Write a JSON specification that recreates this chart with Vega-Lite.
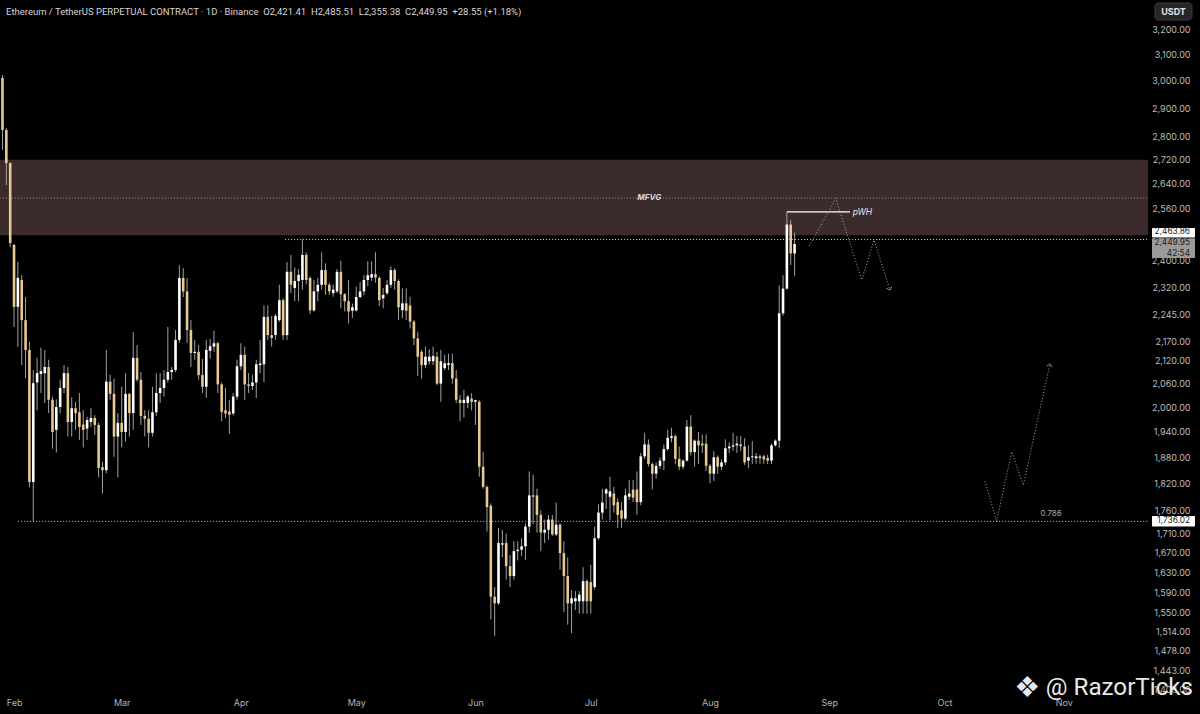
{
"$schema":"https://vega.github.io/schema/vega-lite/v6.json",
"width":1148,"height":692,"autosize":"none","padding":{"left":0,"top":0,"right":52,"bottom":22},
"background":"#000000",
"config":{"view":{"stroke":null},"font":"Inter","axis":{"grid":false,"domain":false,"ticks":false,"title":null}},
"datasets":{
"candles":[
{"t":"2025-01-29","o":3011,"h":3022,"l":2754,"c":2823},
{"t":"2025-01-30","o":2823,"h":2830,"l":2636,"c":2709},
{"t":"2025-01-31","o":2709,"h":2712,"l":2440,"c":2453},
{"t":"2025-02-01","o":2447,"h":2450,"l":2210,"c":2266},
{"t":"2025-02-02","o":2266,"h":2396,"l":2156,"c":2349},
{"t":"2025-02-03","o":2343,"h":2357,"l":2108,"c":2229},
{"t":"2025-02-04","o":2229,"h":2294,"l":2074,"c":2148},
{"t":"2025-02-05","o":2148,"h":2170,"l":1811,"c":1823},
{"t":"2025-02-06","o":1823,"h":2095,"l":1736,"c":2061},
{"t":"2025-02-07","o":2063,"h":2127,"l":1993,"c":2087},
{"t":"2025-02-08","o":2085,"h":2154,"l":2036,"c":2092},
{"t":"2025-02-09","o":2087,"h":2148,"l":2011,"c":2103},
{"t":"2025-02-10","o":2103,"h":2122,"l":1986,"c":2019},
{"t":"2025-02-11","o":2019,"h":2027,"l":1900,"c":1940},
{"t":"2025-02-12","o":1945,"h":2020,"l":1891,"c":2001},
{"t":"2025-02-13","o":2001,"h":2070,"l":1985,"c":2049},
{"t":"2025-02-14","o":2049,"h":2108,"l":2036,"c":2087},
{"t":"2025-02-15","o":2087,"h":2103,"l":1929,"c":1964},
{"t":"2025-02-16","o":1964,"h":2025,"l":1929,"c":1998},
{"t":"2025-02-17","o":1998,"h":2014,"l":1945,"c":1986},
{"t":"2025-02-18","o":1988,"h":2036,"l":1921,"c":1952},
{"t":"2025-02-19","o":1958,"h":1993,"l":1903,"c":1945},
{"t":"2025-02-20","o":1948,"h":1977,"l":1921,"c":1969},
{"t":"2025-02-21","o":1964,"h":1998,"l":1952,"c":1974},
{"t":"2025-02-22","o":1974,"h":1981,"l":1933,"c":1957},
{"t":"2025-02-23","o":1957,"h":1962,"l":1834,"c":1855},
{"t":"2025-02-24","o":1857,"h":1869,"l":1797,"c":1850},
{"t":"2025-02-25","o":1850,"h":2148,"l":1843,"c":2065},
{"t":"2025-02-26","o":2065,"h":2083,"l":2019,"c":2034},
{"t":"2025-02-27","o":2034,"h":2073,"l":1881,"c":1929},
{"t":"2025-02-28","o":1929,"h":1986,"l":1834,"c":1962},
{"t":"2025-03-01","o":1962,"h":2052,"l":1903,"c":1940},
{"t":"2025-03-02","o":1940,"h":2087,"l":1917,"c":2034},
{"t":"2025-03-03","o":2034,"h":2036,"l":1929,"c":1986},
{"t":"2025-03-04","o":1986,"h":2196,"l":1945,"c":2127},
{"t":"2025-03-05","o":2127,"h":2161,"l":2065,"c":2070},
{"t":"2025-03-06","o":2070,"h":2090,"l":1957,"c":1979},
{"t":"2025-03-07","o":1979,"h":1993,"l":1929,"c":1972},
{"t":"2025-03-08","o":1972,"h":1993,"l":1903,"c":1938},
{"t":"2025-03-09","o":1938,"h":2052,"l":1929,"c":1988},
{"t":"2025-03-10","o":1988,"h":2087,"l":1979,"c":2036},
{"t":"2025-03-11","o":2036,"h":2087,"l":2011,"c":2049},
{"t":"2025-03-12","o":2049,"h":2095,"l":2027,"c":2070},
{"t":"2025-03-13","o":2070,"h":2210,"l":2063,"c":2090},
{"t":"2025-03-14","o":2090,"h":2103,"l":2070,"c":2095},
{"t":"2025-03-15","o":2095,"h":2202,"l":2090,"c":2175},
{"t":"2025-03-16","o":2175,"h":2386,"l":2167,"c":2349},
{"t":"2025-03-17","o":2349,"h":2378,"l":2294,"c":2310},
{"t":"2025-03-18","o":2310,"h":2349,"l":2167,"c":2202},
{"t":"2025-03-19","o":2202,"h":2229,"l":2103,"c":2140},
{"t":"2025-03-20","o":2140,"h":2175,"l":2122,"c":2143},
{"t":"2025-03-21","o":2143,"h":2161,"l":2070,"c":2082},
{"t":"2025-03-22","o":2082,"h":2124,"l":2036,"c":2052},
{"t":"2025-03-23","o":2052,"h":2175,"l":2024,"c":2148},
{"t":"2025-03-24","o":2146,"h":2178,"l":2125,"c":2158},
{"t":"2025-03-25","o":2157,"h":2200,"l":2143,"c":2166},
{"t":"2025-03-26","o":2166,"h":2170,"l":2036,"c":2058},
{"t":"2025-03-27","o":2058,"h":2063,"l":1966,"c":1989},
{"t":"2025-03-28","o":1993,"h":2049,"l":1974,"c":1985},
{"t":"2025-03-29","o":1990,"h":2019,"l":1935,"c":1982},
{"t":"2025-03-30","o":1985,"h":2036,"l":1980,"c":2027},
{"t":"2025-03-31","o":2027,"h":2122,"l":2019,"c":2105},
{"t":"2025-04-01","o":2105,"h":2166,"l":2095,"c":2135},
{"t":"2025-04-02","o":2135,"h":2157,"l":2019,"c":2058},
{"t":"2025-04-03","o":2058,"h":2087,"l":2036,"c":2054},
{"t":"2025-04-04","o":2054,"h":2082,"l":2044,"c":2063},
{"t":"2025-04-05","o":2063,"h":2122,"l":2024,"c":2110},
{"t":"2025-04-06","o":2108,"h":2175,"l":2087,"c":2112},
{"t":"2025-04-07","o":2110,"h":2270,"l":2063,"c":2238},
{"t":"2025-04-08","o":2238,"h":2270,"l":2175,"c":2188},
{"t":"2025-04-09","o":2188,"h":2241,"l":2157,"c":2180},
{"t":"2025-04-10","o":2188,"h":2246,"l":2175,"c":2241},
{"t":"2025-04-11","o":2229,"h":2329,"l":2224,"c":2285},
{"t":"2025-04-12","o":2285,"h":2290,"l":2175,"c":2188},
{"t":"2025-04-13","o":2188,"h":2396,"l":2175,"c":2367},
{"t":"2025-04-14","o":2367,"h":2417,"l":2305,"c":2329},
{"t":"2025-04-15","o":2320,"h":2380,"l":2282,"c":2340},
{"t":"2025-04-16","o":2340,"h":2375,"l":2282,"c":2358},
{"t":"2025-04-17","o":2343,"h":2464,"l":2315,"c":2417},
{"t":"2025-04-18","o":2417,"h":2425,"l":2330,"c":2343},
{"t":"2025-04-19","o":2349,"h":2354,"l":2246,"c":2256},
{"t":"2025-04-20","o":2256,"h":2343,"l":2253,"c":2310},
{"t":"2025-04-21","o":2310,"h":2349,"l":2282,"c":2329},
{"t":"2025-04-22","o":2329,"h":2425,"l":2315,"c":2372},
{"t":"2025-04-23","o":2372,"h":2392,"l":2300,"c":2329},
{"t":"2025-04-24","o":2329,"h":2335,"l":2300,"c":2310},
{"t":"2025-04-25","o":2305,"h":2330,"l":2295,"c":2315},
{"t":"2025-04-26","o":2310,"h":2375,"l":2305,"c":2367},
{"t":"2025-04-27","o":2367,"h":2400,"l":2262,"c":2302},
{"t":"2025-04-28","o":2302,"h":2305,"l":2253,"c":2282},
{"t":"2025-04-29","o":2282,"h":2343,"l":2220,"c":2253},
{"t":"2025-04-30","o":2255,"h":2275,"l":2235,"c":2265},
{"t":"2025-05-01","o":2256,"h":2324,"l":2253,"c":2294},
{"t":"2025-05-02","o":2294,"h":2337,"l":2290,"c":2310},
{"t":"2025-05-03","o":2310,"h":2357,"l":2299,"c":2343},
{"t":"2025-05-04","o":2343,"h":2398,"l":2325,"c":2357},
{"t":"2025-05-05","o":2350,"h":2398,"l":2340,"c":2360},
{"t":"2025-05-06","o":2360,"h":2425,"l":2335,"c":2350},
{"t":"2025-05-07","o":2349,"h":2354,"l":2268,"c":2285},
{"t":"2025-05-08","o":2290,"h":2320,"l":2262,"c":2300},
{"t":"2025-05-09","o":2305,"h":2343,"l":2300,"c":2329},
{"t":"2025-05-10","o":2329,"h":2383,"l":2320,"c":2372},
{"t":"2025-05-11","o":2372,"h":2378,"l":2315,"c":2340},
{"t":"2025-05-12","o":2340,"h":2345,"l":2229,"c":2265},
{"t":"2025-05-13","o":2257,"h":2319,"l":2234,"c":2276},
{"t":"2025-05-14","o":2276,"h":2319,"l":2229,"c":2255},
{"t":"2025-05-15","o":2270,"h":2295,"l":2206,"c":2225},
{"t":"2025-05-16","o":2225,"h":2229,"l":2161,"c":2179},
{"t":"2025-05-17","o":2179,"h":2197,"l":2080,"c":2130},
{"t":"2025-05-18","o":2143,"h":2148,"l":2073,"c":2108},
{"t":"2025-05-19","o":2108,"h":2157,"l":2100,"c":2130},
{"t":"2025-05-20","o":2118,"h":2150,"l":2110,"c":2130},
{"t":"2025-05-21","o":2118,"h":2157,"l":2108,"c":2132},
{"t":"2025-05-22","o":2130,"h":2143,"l":2056,"c":2060},
{"t":"2025-05-23","o":2060,"h":2148,"l":2014,"c":2118},
{"t":"2025-05-24","o":2100,"h":2135,"l":2095,"c":2113},
{"t":"2025-05-25","o":2108,"h":2138,"l":2095,"c":2113},
{"t":"2025-05-26","o":2113,"h":2138,"l":2060,"c":2073},
{"t":"2025-05-27","o":2073,"h":2095,"l":2011,"c":2019},
{"t":"2025-05-28","o":2019,"h":2031,"l":1966,"c":2011},
{"t":"2025-05-29","o":2011,"h":2044,"l":1975,"c":2019},
{"t":"2025-05-30","o":2011,"h":2031,"l":1998,"c":2027},
{"t":"2025-05-31","o":2022,"h":2036,"l":1993,"c":2014},
{"t":"2025-06-01","o":2014,"h":2019,"l":1957,"c":2018},
{"t":"2025-06-02","o":2014,"h":2018,"l":1835,"c":1858},
{"t":"2025-06-03","o":1858,"h":1893,"l":1808,"c":1812},
{"t":"2025-06-04","o":1812,"h":1815,"l":1714,"c":1767},
{"t":"2025-06-05","o":1770,"h":1775,"l":1537,"c":1581},
{"t":"2025-06-06","o":1581,"h":1600,"l":1506,"c":1568},
{"t":"2025-06-07","o":1568,"h":1722,"l":1565,"c":1690},
{"t":"2025-06-08","o":1690,"h":1718,"l":1660,"c":1686},
{"t":"2025-06-09","o":1690,"h":1710,"l":1615,"c":1642},
{"t":"2025-06-10","o":1642,"h":1665,"l":1600,"c":1622},
{"t":"2025-06-11","o":1622,"h":1694,"l":1615,"c":1673},
{"t":"2025-06-12","o":1673,"h":1694,"l":1654,"c":1676},
{"t":"2025-06-13","o":1676,"h":1700,"l":1663,"c":1683},
{"t":"2025-06-14","o":1683,"h":1732,"l":1655,"c":1725},
{"t":"2025-06-15","o":1725,"h":1847,"l":1712,"c":1793},
{"t":"2025-06-16","o":1793,"h":1840,"l":1730,"c":1790},
{"t":"2025-06-17","o":1793,"h":1808,"l":1712,"c":1750},
{"t":"2025-06-18","o":1750,"h":1760,"l":1673,"c":1712},
{"t":"2025-06-19","o":1712,"h":1740,"l":1690,"c":1718},
{"t":"2025-06-20","o":1718,"h":1750,"l":1697,"c":1740},
{"t":"2025-06-21","o":1740,"h":1750,"l":1705,"c":1708},
{"t":"2025-06-22","o":1708,"h":1777,"l":1705,"c":1729},
{"t":"2025-06-23","o":1729,"h":1732,"l":1635,"c":1669},
{"t":"2025-06-24","o":1669,"h":1694,"l":1551,"c":1622},
{"t":"2025-06-25","o":1622,"h":1660,"l":1527,"c":1568},
{"t":"2025-06-26","o":1568,"h":1594,"l":1511,"c":1578},
{"t":"2025-06-27","o":1572,"h":1592,"l":1555,"c":1578},
{"t":"2025-06-28","o":1572,"h":1592,"l":1548,"c":1585},
{"t":"2025-06-29","o":1572,"h":1640,"l":1548,"c":1612},
{"t":"2025-06-30","o":1612,"h":1615,"l":1548,"c":1572},
{"t":"2025-07-01","o":1610,"h":1645,"l":1548,"c":1572},
{"t":"2025-07-02","o":1600,"h":1725,"l":1595,"c":1700},
{"t":"2025-07-03","o":1700,"h":1773,"l":1697,"c":1755},
{"t":"2025-07-04","o":1755,"h":1808,"l":1740,"c":1777},
{"t":"2025-07-05","o":1797,"h":1810,"l":1763,"c":1806},
{"t":"2025-07-06","o":1790,"h":1835,"l":1738,"c":1802},
{"t":"2025-07-07","o":1797,"h":1812,"l":1755,"c":1771},
{"t":"2025-07-08","o":1778,"h":1786,"l":1722,"c":1750},
{"t":"2025-07-09","o":1760,"h":1778,"l":1722,"c":1742},
{"t":"2025-07-10","o":1742,"h":1808,"l":1738,"c":1793},
{"t":"2025-07-11","o":1790,"h":1828,"l":1783,"c":1797},
{"t":"2025-07-12","o":1806,"h":1828,"l":1778,"c":1788},
{"t":"2025-07-13","o":1806,"h":1847,"l":1750,"c":1778},
{"t":"2025-07-14","o":1778,"h":1890,"l":1771,"c":1882},
{"t":"2025-07-15","o":1882,"h":1938,"l":1876,"c":1910},
{"t":"2025-07-16","o":1910,"h":1922,"l":1858,"c":1864},
{"t":"2025-07-17","o":1864,"h":1868,"l":1806,"c":1842},
{"t":"2025-07-18","o":1842,"h":1868,"l":1831,"c":1860},
{"t":"2025-07-19","o":1860,"h":1880,"l":1853,"c":1872},
{"t":"2025-07-20","o":1872,"h":1910,"l":1850,"c":1899},
{"t":"2025-07-21","o":1899,"h":1945,"l":1895,"c":1926},
{"t":"2025-07-22","o":1926,"h":1950,"l":1915,"c":1930},
{"t":"2025-07-23","o":1930,"h":1934,"l":1864,"c":1876},
{"t":"2025-07-24","o":1876,"h":1905,"l":1850,"c":1858},
{"t":"2025-07-25","o":1858,"h":1875,"l":1852,"c":1872},
{"t":"2025-07-26","o":1872,"h":1969,"l":1870,"c":1953},
{"t":"2025-07-27","o":1953,"h":1981,"l":1884,"c":1892},
{"t":"2025-07-28","o":1892,"h":1922,"l":1858,"c":1919},
{"t":"2025-07-29","o":1919,"h":1940,"l":1864,"c":1908},
{"t":"2025-07-30","o":1912,"h":1934,"l":1890,"c":1908},
{"t":"2025-07-31","o":1912,"h":1934,"l":1848,"c":1860},
{"t":"2025-08-01","o":1860,"h":1864,"l":1820,"c":1842},
{"t":"2025-08-02","o":1842,"h":1895,"l":1825,"c":1880},
{"t":"2025-08-03","o":1880,"h":1884,"l":1842,"c":1858},
{"t":"2025-08-04","o":1858,"h":1875,"l":1850,"c":1868},
{"t":"2025-08-05","o":1868,"h":1922,"l":1862,"c":1901},
{"t":"2025-08-06","o":1901,"h":1915,"l":1890,"c":1905},
{"t":"2025-08-07","o":1905,"h":1938,"l":1895,"c":1908},
{"t":"2025-08-08","o":1908,"h":1930,"l":1890,"c":1912},
{"t":"2025-08-09","o":1910,"h":1930,"l":1895,"c":1906},
{"t":"2025-08-10","o":1905,"h":1925,"l":1862,"c":1868},
{"t":"2025-08-11","o":1872,"h":1908,"l":1855,"c":1880},
{"t":"2025-08-12","o":1880,"h":1918,"l":1864,"c":1882},
{"t":"2025-08-13","o":1878,"h":1890,"l":1865,"c":1882},
{"t":"2025-08-14","o":1882,"h":1886,"l":1865,"c":1878},
{"t":"2025-08-15","o":1882,"h":1886,"l":1865,"c":1875},
{"t":"2025-08-16","o":1878,"h":1886,"l":1864,"c":1872},
{"t":"2025-08-17","o":1872,"h":1912,"l":1864,"c":1908},
{"t":"2025-08-18","o":1908,"h":1922,"l":1905,"c":1919},
{"t":"2025-08-19","o":1919,"h":2327,"l":1901,"c":2248},
{"t":"2025-08-20","o":2248,"h":2357,"l":2241,"c":2318},
{"t":"2025-08-21","o":2318,"h":2550,"l":2315,"c":2510},
{"t":"2025-08-22","o":2510,"h":2525,"l":2387,"c":2421.4},
{"t":"2025-08-23","o":2421.41,"h":2485.51,"l":2355.38,"c":2449.95}
]
},
"encoding":{
 "x":{"field":"t","type":"temporal","title":null,"scale":{"type":"utc","domain":[{"year":2025,"month":1,"date":28,"hours":8,"minutes":24,"utc":true},{"year":2025,"month":11,"date":22,"hours":22,"minutes":3,"utc":true}]},
  "axis":{"values":[{"year":2025,"month":2,"date":1,"utc":true},{"year":2025,"month":3,"date":1,"utc":true},{"year":2025,"month":4,"date":1,"utc":true},{"year":2025,"month":5,"date":1,"utc":true},{"year":2025,"month":6,"date":1,"utc":true},{"year":2025,"month":7,"date":1,"utc":true},{"year":2025,"month":8,"date":1,"utc":true},{"year":2025,"month":9,"date":1,"utc":true},{"year":2025,"month":10,"date":1,"utc":true},{"year":2025,"month":11,"date":1,"utc":true}],
   "labelExpr":"utcFormat(datum.value, '%b')","title":null,"grid":false,"domain":false,"ticks":false,"labelColor":"#b4b4b4","labelFont":"Inter","labelFontSize":9,"labelPadding":6,"labelOverlap":false}}
},
"layer":[
{"data":{"values":[{"t":"2025-01-01","t2":"2025-12-31","p":2720,"p2":2477}]},
 "mark":{"type":"rect","color":"#3b2b2c","clip":true},
 "encoding":{
  "x2":{"field":"t2"},
  "y":{"field":"p","type":"quantitative","title":null,"scale":{"type":"log","domain":[1404.5,3317.4],"nice":false},
   "axis":{"orient":"right","values":[1408,1443,1478,1514,1550,1590,1630,1670,1710,1760,1820,1880,1940,2000,2060,2120,2170,2245,2320,2400,2560,2640,2720,2800,2900,3000,3100,3200],
    "format":",.2f","title":null,"grid":false,"domain":false,"ticks":false,"labelColor":"#bcbcbc","labelFont":"Inter","labelFontSize":9,"labelPadding":42,"labelAlign":"right","labelOverlap":false,"labelBound":false}},
  "y2":{"field":"p2"}}},
{"data":{"values":[{"t":"2025-01-01","t2":"2025-12-31","p":2594}]},
 "mark":{"type":"rule","color":"#9c9090","strokeDash":[1,2],"strokeWidth":1,"clip":true},
 "encoding":{"x2":{"field":"t2"},"y":{"field":"p","type":"quantitative","title":null,"scale":{"type":"log","domain":[1404.5,3317.4],"nice":false}}}},
{"data":{"values":[{"t":"2025-04-12T12:00:00Z","t2":"2025-12-31","p":2463.86},{"t":"2025-02-02T02:00:00Z","t2":"2025-12-31","p":1736.02}]},
 "mark":{"type":"rule","color":"#cfcfcf","strokeDash":[1,2],"strokeWidth":1,"clip":true},
 "encoding":{"x2":{"field":"t2"},"y":{"field":"p","type":"quantitative","title":null,"scale":{"type":"log","domain":[1404.5,3317.4],"nice":false}}}},
{"data":{"name":"candles"},
 "mark":{"type":"rule","color":"#a0a0a0","strokeWidth":1},
 "encoding":{"y":{"field":"l","type":"quantitative","title":null,"scale":{"type":"log","domain":[1404.5,3317.4],"nice":false}},"y2":{"field":"h"}}},
{"data":{"name":"candles"},
 "mark":{"type":"rule","strokeWidth":2.6,"strokeCap":"butt"},
 "encoding":{"y":{"field":"o","type":"quantitative","title":null,"scale":{"type":"log","domain":[1404.5,3317.4],"nice":false}},"y2":{"field":"c"},
  "color":{"condition":{"test":"datum.c >= datum.o","value":"#ffffff"},"value":"#e8c990"}}},
{"data":{"values":[{"t":"2025-08-21","t2":"2025-09-06T10:00:00Z","p":2550}]},
 "mark":{"type":"rule","color":"#ffffff","strokeWidth":1.3},
 "encoding":{"x2":{"field":"t2"},"y":{"field":"p","type":"quantitative","title":null,"scale":{"type":"log","domain":[1404.5,3317.4],"nice":false}}}},
{"data":{"values":[{"path":"a","t":"2025-08-26T20:00:00Z","p":2444},{"path":"a","t":"2025-09-02T16:48:00Z","p":2593},{"path":"a","t":"2025-09-09T11:00:00Z","p":2343},{"path":"a","t":"2025-09-12T15:50:00Z","p":2462},{"path":"a","t":"2025-09-16T19:40:00Z","p":2314},
  {"path":"b","t":"2025-10-11T12:43:00Z","p":1825},{"path":"b","t":"2025-10-14T13:40:00Z","p":1736},{"path":"b","t":"2025-10-18T11:17:00Z","p":1893},{"path":"b","t":"2025-10-21T11:46:00Z","p":1816},{"path":"b","t":"2025-10-28T10:19:00Z","p":2111}]},
 "mark":{"type":"line","color":"#a8a8a8","strokeDash":[1,2],"strokeWidth":1},
 "encoding":{"y":{"field":"p","type":"quantitative","title":null,"scale":{"type":"log","domain":[1404.5,3317.4],"nice":false}},"detail":{"field":"path"}}},
{"data":{"values":[{"t":"2025-09-16T19:40:00Z","p":2314}]},
 "mark":{"type":"point","shape":"M-0.9,0.9L0,0L0.9,0.9","filled":false,"color":"#a8a8a8","strokeWidth":1,"size":40,"angle":162},
 "encoding":{"y":{"field":"p","type":"quantitative","title":null,"scale":{"type":"log","domain":[1404.5,3317.4],"nice":false}}}},
{"data":{"values":[{"t":"2025-10-28T10:19:00Z","p":2111}]},
 "mark":{"type":"point","shape":"M-0.9,0.9L0,0L0.9,0.9","filled":false,"color":"#a8a8a8","strokeWidth":1,"size":40,"angle":12},
 "encoding":{"y":{"field":"p","type":"quantitative","title":null,"scale":{"type":"log","domain":[1404.5,3317.4],"nice":false}}}},
{"data":{"values":[{"t":"2025-07-16T05:00:00Z","p":2594,"label":"MFVG"}]},
 "mark":{"type":"text","color":"#d8d8d8","font":"Inter","fontSize":8,"fontStyle":"italic","fontWeight":"bold","align":"center","baseline":"middle"},
 "encoding":{"y":{"field":"p","type":"quantitative","title":null,"scale":{"type":"log","domain":[1404.5,3317.4],"nice":false}},"text":{"field":"label"}}},
{"data":{"values":[{"t":"2025-09-07T02:24:00Z","p":2550,"label":"pWH"}]},
 "mark":{"type":"text","color":"#e6e6e6","font":"Inter","fontSize":8.5,"fontStyle":"italic","align":"left","baseline":"middle"},
 "encoding":{"y":{"field":"p","type":"quantitative","title":null,"scale":{"type":"log","domain":[1404.5,3317.4],"nice":false}},"text":{"field":"label"}}},
{"data":{"values":[{"t":"2025-10-28T17:00:00Z","p":1751,"label":"0.786"}]},
 "mark":{"type":"text","color":"#a8a8a8","font":"Inter","fontSize":8,"align":"center","baseline":"middle"},
 "encoding":{"y":{"field":"p","type":"quantitative","title":null,"scale":{"type":"log","domain":[1404.5,3317.4],"nice":false}},"text":{"field":"label"}}},
{"data":{"values":[{"t":"2025-01-29T21:50:00Z","p":3269,"label":"Ethereum / TetherUS PERPETUAL CONTRACT · 1D · Binance\u00a0\u00a0O2,421.41\u00a0\u00a0H2,485.51\u00a0\u00a0L2,355.38\u00a0\u00a0C2,449.95\u00a0\u00a0+28.55 (+1.18%)"}]},
 "mark":{"type":"text","color":"#d6d6d6","font":"Roboto","fontSize":9.5,"align":"left","baseline":"middle"},
 "encoding":{"y":{"field":"p","type":"quantitative","title":null,"scale":{"type":"log","domain":[1404.5,3317.4],"nice":false}},"text":{"field":"label"}}},
{"data":{"values":[{"t":"2025-11-24T17:45:00Z","t2":"2025-12-04T08:38:00Z","p":3305,"p2":3236}]},
 "mark":{"type":"rect","color":"#262626","stroke":"#3a3a3a","strokeWidth":1,"cornerRadius":3},
 "encoding":{"x2":{"field":"t2"},"y":{"field":"p","type":"quantitative","title":null,"scale":{"type":"log","domain":[1404.5,3317.4],"nice":false}},"y2":{"field":"p2"}}},
{"data":{"values":[{"t":"2025-11-29T13:12:00Z","p":3269,"label":"USDT"}]},
 "mark":{"type":"text","color":"#e0e0e0","font":"Inter","fontSize":9,"fontWeight":"bold","align":"center","baseline":"middle"},
 "encoding":{"y":{"field":"p","type":"quantitative","title":null,"scale":{"type":"log","domain":[1404.5,3317.4],"nice":false}},"text":{"field":"label"}}},
{"data":{"values":[{"t":"2025-11-23T23:00:00Z","t2":"2025-12-05T03:22:00Z","p":2499,"p2":2470,"kind":"w"},{"t":"2025-11-23T23:00:00Z","t2":"2025-12-05T03:22:00Z","p":1747.6,"p2":1724.8,"kind":"w"},{"t":"2025-11-23T23:00:00Z","t2":"2025-12-05T03:22:00Z","p":2468,"p2":2408,"kind":"g"}]},
 "mark":{"type":"rect","cornerRadius":1},
 "encoding":{"x2":{"field":"t2"},"y":{"field":"p","type":"quantitative","title":null,"scale":{"type":"log","domain":[1404.5,3317.4],"nice":false}},"y2":{"field":"p2"},
  "color":{"field":"kind","type":"nominal","scale":{"domain":["w","g"],"range":["#ffffff","#9a9a9a"]},"legend":null}}},
{"data":{"values":[{"t":"2025-12-03T20:10:00Z","p":2486,"label":"2,463.86"},{"t":"2025-12-03T20:10:00Z","p":2454,"label":"2,449.95"},{"t":"2025-12-03T20:10:00Z","p":2421,"label":"42:54"},{"t":"2025-12-03T20:10:00Z","p":1736,"label":"1,736.02"}]},
 "mark":{"type":"text","color":"#202020","font":"Inter","fontSize":8.3,"align":"right","baseline":"middle"},
 "encoding":{"y":{"field":"p","type":"quantitative","title":null,"scale":{"type":"log","domain":[1404.5,3317.4],"nice":false}},"text":{"field":"label"}}},
{"data":{"values":[{"t":"2025-10-22T12:00:00Z","p":1411,"label":"❖"}]},
 "mark":{"type":"text","color":"#e8e8e8","font":"DejaVu Sans","fontSize":29,"align":"center","baseline":"middle"},
 "encoding":{"y":{"field":"p","type":"quantitative","title":null,"scale":{"type":"log","domain":[1404.5,3317.4],"nice":false}},"text":{"field":"label"}}},
{"data":{"values":[{"t":"2025-10-27T08:00:00Z","p":1411,"label":"@ RazorTicks"}]},
 "mark":{"type":"text","color":"#e8e8e8","font":"Roboto","fontSize":24.2,"align":"left","baseline":"middle"},
 "encoding":{"y":{"field":"p","type":"quantitative","title":null,"scale":{"type":"log","domain":[1404.5,3317.4],"nice":false}},"text":{"field":"label"}}}
]
}
